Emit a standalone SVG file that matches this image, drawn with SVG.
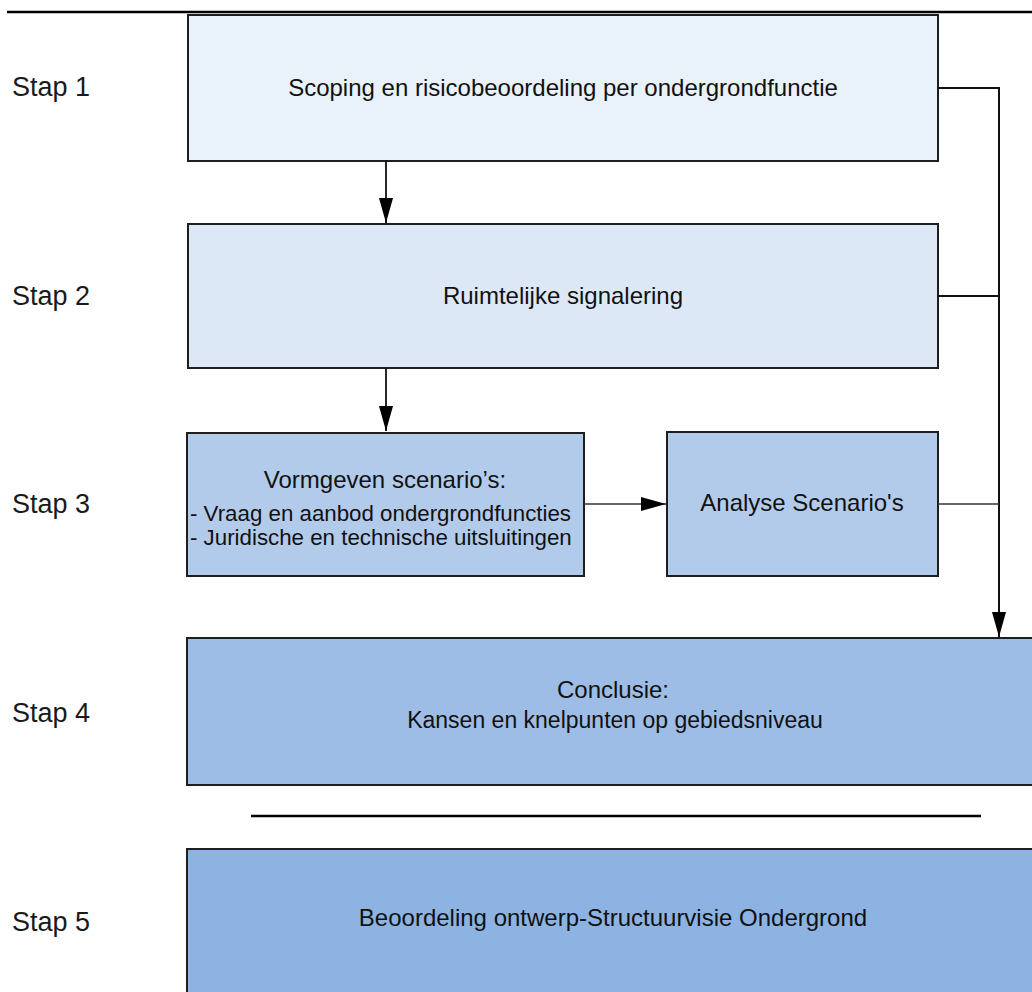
<svg xmlns="http://www.w3.org/2000/svg" width="1032" height="992" viewBox="0 0 1032 992">
  <style>
    .box { stroke: #1e1e1e; stroke-width: 2; }
    .lbl { font-family: "Liberation Sans", Arial, sans-serif; font-size: 27px; fill: #1a1a1a; }
    .txt { font-family: "Liberation Sans", Arial, sans-serif; font-size: 24px; fill: #111; text-anchor: middle; }
    .sub { font-family: "Liberation Sans", Arial, sans-serif; font-size: 22.3px; fill: #111; }
    .conn { fill: none; stroke: #111; stroke-width: 2; }
    .thin { fill: none; stroke: #333; stroke-width: 1.3; }
  </style>
  <defs>
    <marker id="arrV" viewBox="0 0 25 14" refX="25" refY="7" markerWidth="25" markerHeight="14" markerUnits="userSpaceOnUse" orient="auto">
      <path d="M0,0 L25,7 L0,14 Z" fill="#000"/>
    </marker>
  </defs>
  <rect width="1032" height="992" fill="#ffffff"/>
  <line x1="7" y1="12" x2="1032" y2="12" stroke="#000" stroke-width="2.5"/>

  <g id="labels">
    <text class="lbl" x="12" y="96">Stap 1</text>
    <text class="lbl" x="12" y="305">Stap 2</text>
    <text class="lbl" x="12" y="513">Stap 3</text>
    <text class="lbl" x="12" y="722">Stap 4</text>
    <text class="lbl" x="12" y="931">Stap 5</text>
  </g>

  <g id="node1">
    <rect class="box" x="188" y="15" width="750" height="146" fill="#e9f1fb"/>
    <text class="txt" x="563" y="96">Scoping en risicobeoordeling per ondergrondfunctie</text>
  </g>
  <g id="node2">
    <rect class="box" x="188" y="224" width="750" height="144" fill="#dde8f6"/>
    <text class="txt" x="563" y="304">Ruimtelijke signalering</text>
  </g>
  <g id="node3a">
    <rect class="box" x="187" y="433" width="397" height="143" fill="#b3cbeb"/>
    <text class="txt" x="385" y="488">Vormgeven scenario’s:</text>
    <text class="sub" x="190" y="521">- Vraag en aanbod ondergrondfuncties</text>
    <text class="sub" x="190" y="545">- Juridische en technische uitsluitingen</text>
  </g>
  <g id="node3b">
    <rect class="box" x="667" y="432" width="271" height="144" fill="#b3cbeb"/>
    <text class="txt" x="802" y="511">Analyse Scenario's</text>
  </g>
  <g id="node4">
    <rect class="box" x="187" y="638" width="860" height="147" fill="#9ebde6"/>
    <text class="txt" x="613" y="698">Conclusie:</text>
    <text class="txt" x="615" y="728" style="font-size:23px">Kansen en knelpunten op gebiedsniveau</text>
  </g>
  <line x1="251" y1="816" x2="981" y2="816" stroke="#000" stroke-width="2.5"/>
  <g id="node5">
    <rect class="box" x="187" y="849" width="860" height="160" fill="#8db3e2"/>
    <text class="txt" x="613" y="926">Beoordeling ontwerp-Structuurvisie Ondergrond</text>
  </g>

  <g id="connectors">
    <line class="conn" x1="386" y1="161" x2="386" y2="223" marker-end="url(#arrV)" style="stroke-width:1.8"/>
    <line class="conn" x1="386" y1="368" x2="386" y2="431" marker-end="url(#arrV)" style="stroke-width:1.8"/>
    <line class="thin" x1="584" y1="504" x2="666" y2="504" marker-end="url(#arrV)"/>
    <polyline class="conn" points="938,88 999,88 999,637" marker-end="url(#arrV)"/>
    <line class="conn" x1="938" y1="296" x2="999" y2="296"/>
    <line class="thin" x1="938" y1="504" x2="999" y2="504"/>
  </g>
</svg>
